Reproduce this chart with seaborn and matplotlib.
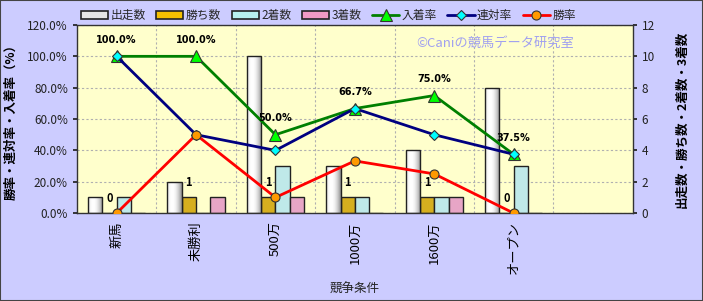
import numpy as np
import pandas as pd
import matplotlib
matplotlib.use("Agg")
import matplotlib.pyplot as plt
from matplotlib.patches import Rectangle
import seaborn as sns

# ---- data ----
categories = ["新馬", "未勝利", "500万", "1000万", "1600万", "オープン"]
starts = [1, 2, 10, 3, 4, 8]          # 出走数
wins = [0, 1, 1, 1, 1, 0]             # 勝ち数
seconds = [1, 0, 3, 1, 1, 3]          # 2着数
thirds = [0, 1, 1, 0, 1, 0]           # 3着数
place_rate = [100.0, 100.0, 50.0, 66.7, 75.0, 37.5]   # 入着率
quinella_rate = [100.0, 50.0, 40.0, 66.7, 50.0, 37.5]  # 連対率
win_rate = [0.0, 50.0, 10.0, 33.3, 25.0, 0.0]          # 勝率

bar_series = ["出走数", "勝ち数", "2着数", "3着数"]
bar_values = [starts, wins, seconds, thirds]
line_series = ["入着率", "連対率", "勝率"]
line_values = [place_rate, quinella_rate, win_rate]

sns.set_theme(style="white")
plt.rcParams["font.family"] = ["Noto Sans CJK JP", "DejaVu Sans"]

bar_colors = {"出走数": "#E6E6E6", "勝ち数": "#F5C000", "2着数": "#B8F0F0", "3着数": "#F29AC6"}
line_styles = {
    "入着率": dict(color="#008000", marker="^", mfc="#00FF00", ms=8),
    "連対率": dict(color="#000080", marker="D", mfc="#00FFFF", ms=5.5),
    "勝率": dict(color="#FF0000", marker="o", mfc="#FF9900", ms=6.5),
}

bars_df = pd.DataFrame({
    "条件": np.repeat([categories], len(bar_series), axis=0).ravel(),
    "系列": np.repeat(bar_series, len(categories)),
    "値": np.concatenate(bar_values),
})

fig = plt.figure(figsize=(7.03, 3.01), dpi=100, facecolor="#CCCCFF")
ax = fig.add_axes([0.1095, 0.292, 0.7905, 0.625])
ax.set_facecolor("#FFFFCC")
ax2 = ax.twinx()

sns.barplot(data=bars_df, x="条件", y="値", hue="系列", order=categories,
            hue_order=bar_series, palette=bar_colors, width=0.72, gap=0,
            edgecolor="#222222", linewidth=1.0, legend=False, ax=ax, zorder=2)

# gradient for 出走数 bars (cylinder look)
grad = np.linspace(0, 1, 64)
shade = 0.55 + 0.45 * np.clip(1 - ((grad - 0.35) / 0.65) ** 2, 0, 1)
shade = np.clip(shade, 0, 1)
img = np.tile(shade, (2, 1))
for p in ax.containers[0]:
    x0, y0 = p.get_x(), p.get_y()
    w, h = p.get_width(), p.get_height()
    im = ax.imshow(img, cmap="gray", vmin=0, vmax=1, aspect="auto",
                   extent=[x0, x0 + w, y0, y0 + h], zorder=2.5, interpolation="bicubic")
    im.set_clip_path(p)
    p.set_zorder(2.6)
    p.set_facecolor("none")

ax.bar_label(ax.containers[1], labels=[str(v) for v in wins], padding=6,
             fontsize=8, fontweight="bold", color="black", zorder=5)

ax.set_xlim(-0.5, 6.5)
ax.set_ylim(0, 12)
ax.set_yticks(np.arange(0, 13, 2))
ax.set_xticks(range(len(categories)))
ax.set_xticklabels(categories, rotation=90, fontsize=9.5, color="black")
ax.set_xticks(np.arange(0.5, 6.5, 1), minor=True)
ax.grid(True, which="minor", axis="x", linestyle=(0, (2, 2)), color="#B0B0B0", lw=0.8)
ax.grid(True, which="major", axis="y", linestyle=(0, (2, 2)), color="#B0B0B0", lw=0.8)
ax.grid(False, which="major", axis="x")
ax.set_axisbelow(True)
for s in ax.spines.values():
    s.set_color("#333333")
    s.set_linewidth(1.0)

# ---- lines on twin axis (left) ----
lines_df = pd.DataFrame({
    "条件": np.repeat([categories], len(line_series), axis=0).ravel(),
    "系列": np.repeat(line_series, len(categories)),
    "率": np.concatenate(line_values),
})
for name in line_series:
    st = line_styles[name]
    sub = lines_df[lines_df["系列"] == name]
    sns.lineplot(data=sub, x="条件", y="率", sort=False, ax=ax2, color=st["color"],
                 lw=2, marker=st["marker"], markersize=st["ms"],
                 markerfacecolor=st["mfc"], markeredgecolor="#333333",
                 markeredgewidth=0.8, label=name, zorder=3)
ax2.set_ylim(0, 120)
ax2.set_yticks(np.arange(0, 121, 20))
ax2.set_yticklabels([f"{v:.1f}%" for v in np.arange(0, 121, 20)])
ax2.set_xlabel("")
ax2.set_xlim(-0.5, 6.5)
for s in ax2.spines.values():
    s.set_visible(False)

# axis sides: bars -> right, rates -> left
ax.yaxis.tick_right()
ax.yaxis.set_label_position("right")
ax2.yaxis.tick_left()
ax2.yaxis.set_label_position("left")
ax.tick_params(axis="y", which="both", left=False, right=True, labelleft=False,
               labelright=True, labelsize=8.5, colors="#222222", length=3)
ax2.tick_params(axis="y", which="both", left=True, right=False, labelleft=True,
                labelright=False, labelsize=8.5, colors="#222222", length=3)
ax.tick_params(axis="x", length=0, pad=6)
ax.set_ylabel("出走数・勝ち数・2着数・3着数", fontsize=9, labelpad=15, color="black",
              fontweight="bold")
ax.set_xlabel("競争条件", fontsize=9, labelpad=6, color="#222222")
ax2.set_ylabel("勝率・連対率・入着率（%）", fontsize=9, labelpad=7, color="black",
               fontweight="bold")

for i, v in enumerate(place_rate):
    ax2.annotate(f"{v:.1f}%", (i, v), xytext=(0, 12), textcoords="offset points",
                 ha="center", va="center", fontsize=7, fontweight="bold", color="black",
                 family=["DejaVu Sans"])

ax2.text(0.752, 0.905, "©Caniの競馬データ研究室", transform=ax2.transAxes, ha="center",
         va="center", fontsize=9.5, color="#A0A0F0")

# ---- legend ----
if ax2.get_legend():
    ax2.get_legend().remove()
handles = [Rectangle((0, 0), 1, 1, facecolor=bar_colors[n], edgecolor="#222222", lw=1.2)
           for n in bar_series]
lh, ll = ax2.get_legend_handles_labels()
fig.legend(handles + lh, bar_series + ll, loc="center", bbox_to_anchor=(0.467, 0.948),
           ncol=7, frameon=False, fontsize=8.5, handlelength=2.3, handleheight=0.6,
           handletextpad=0.2, columnspacing=0.9)

fig.add_artist(Rectangle((0, 0), 1, 1, transform=fig.transFigure, fill=False,
                         edgecolor="#444444", lw=1.5))

fig.savefig("out.png", dpi=100, facecolor=fig.get_facecolor())
